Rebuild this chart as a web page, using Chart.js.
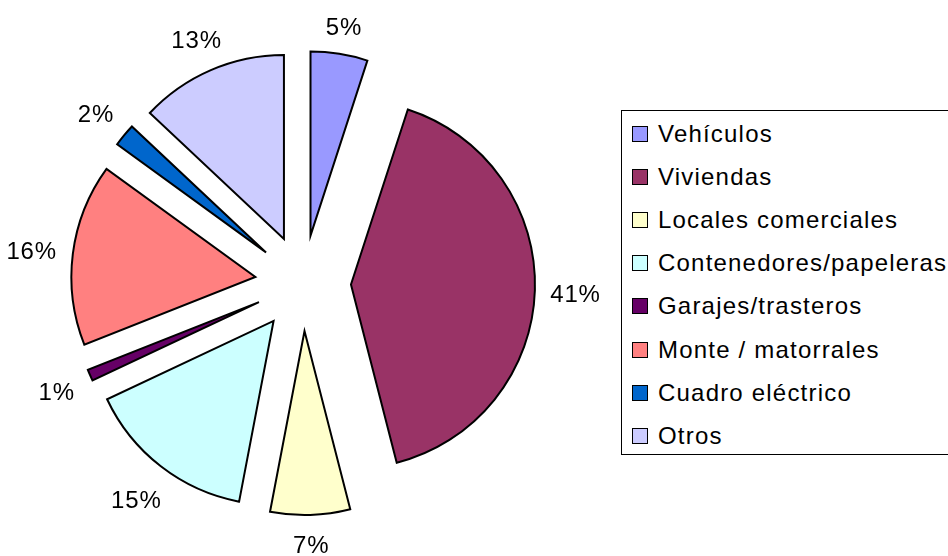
<!DOCTYPE html>
<html><head><meta charset="utf-8">
<script src="https://cdn.jsdelivr.net/npm/chart.js@4"></script>
<style>
html,body{margin:0;padding:0;background:#fff;overflow:hidden;}
#wrap{position:relative;width:948px;height:556px;overflow:hidden;}
#c{position:absolute;left:0;top:0;}
#legend{position:absolute;left:621px;top:110px;width:360px;height:345px;border:1.5px solid #000;box-sizing:border-box;font-family:'Liberation Sans',Arial,sans-serif;font-size:24px;letter-spacing:1.2px;color:#000;background:#fff;}
.item{position:absolute;left:10px;height:30px;display:flex;align-items:center;white-space:nowrap;}
.sw{width:16px;height:16px;border:1.5px solid #000;box-sizing:border-box;margin-right:10px;flex:none;}
</style></head>
<body><div id="wrap"><canvas id="c" width="948" height="556"></canvas><div id="legend"></div></div>
<script>
const categories = ['Vehículos','Viviendas','Locales comerciales','Contenedores/papeleras','Garajes/trasteros','Monte / matorrales','Cuadro eléctrico','Otros'];
const percentages = [5, 41, 7, 15, 1, 16, 2, 13];
const sliceColors = ['#9999FF','#993366','#FFFFCC','#CCFFFF','#660066','#FF8080','#0066CC','#CCCCFF'];

const EXPLODE = 48;
const LABEL_GAP = 15;
const FONT = '24px "Liberation Sans", Arial, sans-serif';

// legend (HTML, real text)
const legend = document.getElementById('legend');
categories.forEach((name, i) => {
  const it = document.createElement('div');
  it.className = 'item';
  it.style.top = (8 + i * 43.1) + 'px';
  const sw = document.createElement('span');
  sw.className = 'sw';
  sw.style.background = sliceColors[i];
  const tx = document.createElement('span');
  tx.textContent = name;
  it.appendChild(sw); it.appendChild(tx);
  legend.appendChild(it);
});

const explodePlugin = {
  id: 'explode',
  afterDatasetUpdate(chart, args) {
    args.meta.data.forEach(arc => {
      const mid = (arc.startAngle + arc.endAngle) / 2;
      arc.x += Math.cos(mid) * EXPLODE;
      arc.y += Math.sin(mid) * EXPLODE;
    });
  }
};

const labelPlugin = {
  id: 'pctLabels',
  afterDatasetsDraw(chart) {
    const ctx = chart.ctx;
    const meta = chart.getDatasetMeta(0);
    const data = chart.data.datasets[0].data;
    const total = data.reduce((a, b) => a + b, 0);
    ctx.save();
    ctx.font = FONT;
    try { ctx.letterSpacing = '0.8px'; } catch (e) {}
    ctx.fillStyle = '#000';
    ctx.textAlign = 'center';
    ctx.textBaseline = 'middle';
    meta.data.forEach((arc, i) => {
      const mid = (arc.startAngle + arc.endAngle) / 2;
      const txt = Math.round(data[i] / total * 100) + '%';
      const w = ctx.measureText(txt).width;
      const h = 24;
      const c = Math.cos(mid), s = Math.sin(mid);
      const dist = arc.outerRadius + LABEL_GAP + Math.abs(c) * w / 2 + Math.abs(s) * h / 2;
      ctx.fillText(txt, arc.x + c * dist, arc.y + s * dist + 4);
    });
    ctx.restore();
  }
};

new Chart(document.getElementById('c'), {
  type: 'pie',
  data: {
    labels: categories,
    datasets: [{
      data: percentages,
      backgroundColor: sliceColors,
      borderColor: '#000',
      borderWidth: 2,
      borderJoinStyle: 'miter',
      radius: 184
    }]
  },
  options: {
    responsive: false,
    animation: false,
    events: [],
    layout: { padding: { left: 0, right: 342, top: 10, bottom: 0 } },
    plugins: { legend: { display: false }, tooltip: { enabled: false } }
  },
  plugins: [explodePlugin, labelPlugin]
});
</script>
</body></html>
